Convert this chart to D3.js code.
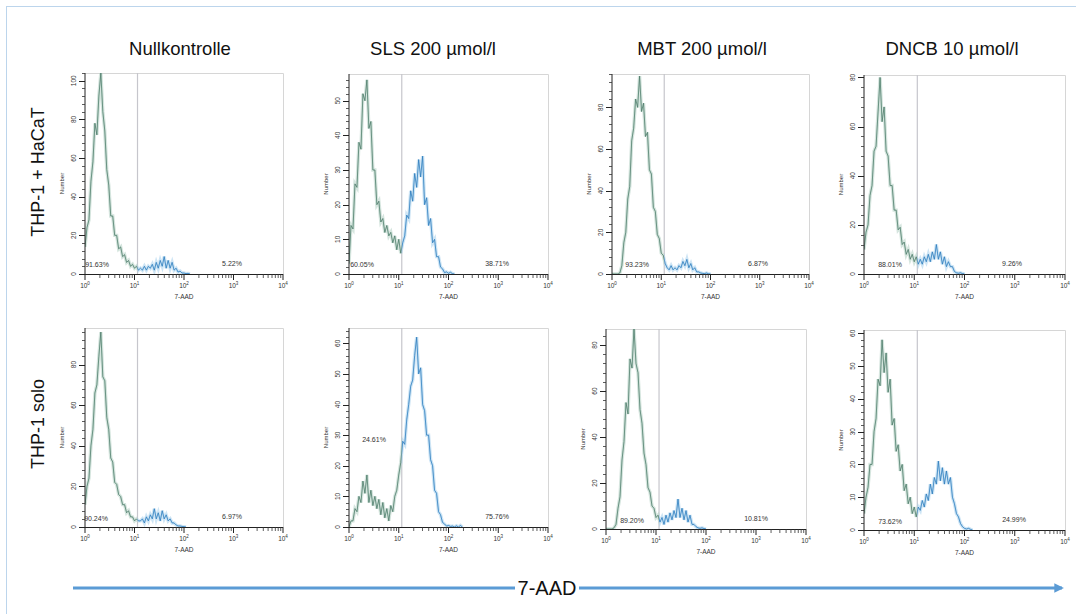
<!DOCTYPE html>
<html><head><meta charset="utf-8">
<script src="https://cdn.jsdelivr.net/npm/d3@7"></script>
<style>
body{margin:0;background:#fff}
svg{display:block}
text{font-family:"Liberation Sans",Arial,Helvetica,sans-serif}
</style>
</head><body>
<svg id="chart" width="1076" height="614"></svg>
<script>
// ---------- data ----------
const binWidth = 0.04;          // histogram bin width in decades, first bin at 10^0
const gateValue = 11.5;          // marker gate on 7-AAD axis
const panelTitles = ["Nullkontrolle", "SLS 200 µmol/l", "MBT 200 µmol/l", "DNCB 10 µmol/l"];
const rowLabels = ["THP-1 + HaCaT", "THP-1 solo"];
const xTickValues = [1, 10, 100, 1000, 10000];
const xTickExponents = ["0", "1", "2", "3", "4"];
const yMax = [104, 57.7, 96, 81, 98, 65, 87, 61];
const yStep = [20, 10, 20, 20, 20, 10, 20, 10];
const leftPct = ["91.63%", "60.05%", "93.23%", "88.01%", "90.24%", "24.61%", "89.20%", "73.62%"];
const rightPct = ["5.22%", "38.71%", "6.87%", "9.26%", "6.97%", "75.76%", "10.81%", "24.99%"];

const nullHacat = [14,24,28,48,58,78,72,92,104,84,74,54,46,30,30,20,20,13,14,9,10,6,7,4,5,3,4,2,3,2,4,2,4,3,5,2,6,3,7,4,9,3,7,3,6,2,3,1,1.5,0.5,0.5,0.2,0.3,0];
const slsHacat = [3,14,13,26,25,38,36,52,50,56,42,44,30,30,20,21,15,16,12,14,11,12,9,11,7,10,6,9,11,17,16,24,21,29,25,33,28,34,20,22,14,16,9,10,5,5,2,1.5,0.4,0.6,0.2,0.5,0.1,0];
const mbtHacat = [0,0,0,0,0.5,4,15,20,36,42,64,70,84,80,95,78,82,66,68,50,48,32,30,19,17,10,9,5,3,2,4,2,3,2,4,3,6,4,7,3,5,2,3,1,1,0.5,0.3,0.2,0.5,0.1,0];
const dncbHacat = [10,17,20,32,36,50,52,66,80,62,68,50,48,36,36,26,26,18,19,12,13,8,10,6,8,5,7,4,6,4,7,5,8,5,9,6,12,6,9,4,7,3,5,3,3,1,0.5,0.3,0.5,0.2,0];
const nullSolo = [11,20,24,40,48,66,70,84,96,74,72,54,48,34,32,22,21,16,15,11,11,7,8,5,5,3,4,3,3,4,2,5,3,6,4,9,4,7,3,8,4,6,3,4,2,2,1,0.5,0.5,0.3,0.2,0];
const slsSolo = [0,2,2,6,5,10,8,15,11,17,8,12,7,10,6,9,4,8,3,6,2,7,5,10,12,17,21,28,27,35,40,46,48,56,62,50,52,40,38,30,30,22,20,12,11,5,4,1.5,1,0.3,0.5,0.2,0.3,0,0.4,0,0.5,0];
const mbtSolo = [0,0,0,0,0.5,2,9,14,30,38,55,50,74,70,87,72,68,52,46,33,28,18,16,10,9,5,6,3,5,2,6,3,7,4,8,5,13,5,9,4,8,3,6,2,2,1,0.5,0.3,0.5,0.2,0];
const dncbSolo = [5,10,13,20,20,30,34,46,44,58,48,54,42,46,32,34,24,26,18,20,12,14,8,10,5,7,4,7,6,9,7,11,9,14,11,16,14,21,15,19,14,18,14,16,10,8,5,4,2,1,0.5,0.3,0.5,0.2,0];

const series = [nullHacat, slsHacat, mbtHacat, dncbHacat, nullSolo, slsSolo, mbtSolo, dncbSolo];

// ---------- layout ----------
const layout = [
  {x: 85,  w: 198, top: 73,  bottom: 274, lx: 12, ly: -7, rx: 147, ry: -8},
  {x: 349, w: 199, top: 74,  bottom: 274, lx: 13, ly: -7, rx: 148, ry: -8},
  {x: 612, w: 197, top: 74,  bottom: 274, lx: 25, ly: -7, rx: 146, ry: -8},
  {x: 864, w: 201, top: 75,  bottom: 274, lx: 26, ly: -7, rx: 148, ry: -8},
  {x: 85,  w: 198, top: 328, bottom: 527, lx: 11, ly: -6, rx: 147, ry: -8},
  {x: 349, w: 199, top: 328, bottom: 527, lx: 25, ly: -85, rx: 148, ry: -8},
  {x: 606, w: 200, top: 329, bottom: 529, lx: 26, ly: -6, rx: 150, ry: -8},
  {x: 864, w: 201, top: 330, bottom: 530, lx: 26, ly: -6, rx: 150, ry: -8}
];
const titleX = [180, 433, 702, 952];
const rowY = [172, 424];

const svg = d3.select("#chart");
const defs = svg.append("defs");

// outer frame
svg.append("rect").attr("x", 6.5).attr("y", 6.5).attr("width", 1200).attr("height", 800)
  .attr("fill", "none").attr("stroke", "#bcd5ec").attr("stroke-width", 1);

// titles
svg.selectAll("text.title").data(panelTitles).join("text")
  .attr("class", "title")
  .attr("x", (d, i) => titleX[i]).attr("y", 55)
  .attr("text-anchor", "middle").attr("font-size", 18.5).attr("fill", "#111")
  .text(d => d);

// row labels
svg.selectAll("text.row").data(rowLabels).join("text")
  .attr("class", "row")
  .attr("transform", (d, i) => `translate(44,${rowY[i]}) rotate(-90)`)
  .attr("text-anchor", "middle").attr("font-size", 18).attr("fill", "#111")
  .text(d => d);

series.forEach((data, p) => {
  const L = layout[p];
  const g = svg.append("g");
  const x = d3.scaleLog().domain([1, 10000]).range([L.x, L.x + L.w]);
  const y = d3.scaleLinear().domain([0, yMax[p]]).range([L.bottom, L.top]);
  const gx = x(gateValue);

  // frame top/right
  g.append("path")
    .attr("d", `M${L.x},${L.top + 0.5}H${L.x + L.w + 0.5}V${L.bottom}`)
    .attr("fill", "none").attr("stroke", "#d6d6d6").attr("stroke-width", 1);

  // gate line
  g.append("line").attr("x1", gx).attr("x2", gx).attr("y1", L.top).attr("y2", L.bottom)
    .attr("stroke", "#c6c6cc").attr("stroke-width", 1.2);

  // clip paths
  const cl = `clipL${p}`, cr = `clipR${p}`;
  defs.append("clipPath").attr("id", cl).append("rect")
    .attr("x", L.x).attr("y", L.top).attr("width", gx - L.x).attr("height", L.bottom - L.top + 1);
  defs.append("clipPath").attr("id", cr).append("rect")
    .attr("x", gx).attr("y", L.top).attr("width", L.x + L.w - gx).attr("height", L.bottom - L.top + 1);

  const line = d3.line()
    .x((d, i) => x(Math.pow(10, i * binWidth)))
    .y(d => y(d));

  const parts = [
    {clip: cl, light: "#b3cfc3", mid: "#6c9987", dark: "#355f51"},
    {clip: cr, light: "#a6cfec", mid: "#4a97d0", dark: "#1d62a8"}
  ];
  parts.forEach(pt => {
    const gg = g.append("g").attr("clip-path", `url(#${pt.clip})`);
    gg.append("path").datum(data).attr("d", line)
      .attr("fill", "none").attr("stroke", pt.light).attr("stroke-width", 3.4)
      .attr("stroke-opacity", 0.55).attr("stroke-linejoin", "miter");
    gg.append("path").datum(data).attr("d", line)
      .attr("fill", "none").attr("stroke", pt.mid).attr("stroke-width", 1)
      .attr("stroke-opacity", 0.85);
    gg.append("path").datum(data).attr("d", line)
      .attr("fill", "none").attr("stroke", pt.dark).attr("stroke-width", 0.5)
      .attr("stroke-opacity", 0.5);
  });

  // y axis
  g.append("line").attr("x1", L.x).attr("x2", L.x).attr("y1", L.top).attr("y2", L.bottom)
    .attr("stroke", "#222").attr("stroke-width", 1);
  const minorStep = yStep[p] / 5;
  const yMinor = d3.range(0, yMax[p] + 1e-6, minorStep);
  g.selectAll("line.ymin").data(yMinor).join("line")
    .attr("x1", L.x - 3).attr("x2", L.x).attr("y1", d => Math.round(y(d)) + 0.5).attr("y2", d => Math.round(y(d)) + 0.5)
    .attr("stroke", "#333").attr("stroke-width", 0.8);
  const yMajor = d3.range(0, yMax[p] + 1e-6, yStep[p]);
  g.selectAll("line.ymaj").data(yMajor).join("line")
    .attr("x1", L.x - 6).attr("x2", L.x).attr("y1", d => Math.round(y(d)) + 0.5).attr("y2", d => Math.round(y(d)) + 0.5)
    .attr("stroke", "#222").attr("stroke-width", 1);
  g.selectAll("text.ylab").data(yMajor).join("text")
    .attr("transform", d => `translate(${L.x - 9},${y(d)}) rotate(-90)`)
    .attr("text-anchor", "middle").attr("font-size", 6.5).attr("fill", "#333")
    .text(d => d);
  g.append("text")
    .attr("transform", `translate(${L.x - 21},${(L.top + L.bottom) / 2 + 10}) rotate(-90)`)
    .attr("text-anchor", "middle").attr("font-size", 6).attr("fill", "#333")
    .text("Number");

  // x axis
  g.append("line").attr("x1", L.x).attr("x2", L.x + L.w).attr("y1", L.bottom + 0.5).attr("y2", L.bottom + 0.5)
    .attr("stroke", "#222").attr("stroke-width", 1);
  const xMinor = x.ticks().filter(v => !xTickValues.includes(v));
  g.selectAll("line.xmin").data(xMinor).join("line")
    .attr("x1", d => x(d)).attr("x2", d => x(d)).attr("y1", L.bottom).attr("y2", L.bottom + 4)
    .attr("stroke", "#333").attr("stroke-width", 0.8);
  g.selectAll("line.xmaj").data(xTickValues).join("line")
    .attr("x1", d => x(d)).attr("x2", d => x(d)).attr("y1", L.bottom).attr("y2", L.bottom + 6)
    .attr("stroke", "#222").attr("stroke-width", 1);
  const xl = g.selectAll("text.xlab").data(xTickValues).join("text")
    .attr("x", d => x(d)).attr("y", L.bottom + 14)
    .attr("text-anchor", "middle").attr("font-size", 6.5).attr("fill", "#333");
  xl.append("tspan").text("10");
  xl.append("tspan").attr("dy", -3).attr("font-size", 4.5).text((d, i) => xTickExponents[i]);
  g.append("text").attr("x", L.x + L.w / 2).attr("y", L.bottom + 25)
    .attr("text-anchor", "middle").attr("font-size", 6.5).attr("fill", "#333").text("7-AAD");

  // percentages
  g.append("text").attr("x", L.x + L.lx).attr("y", L.bottom + L.ly)
    .attr("text-anchor", "middle").attr("font-size", 7).attr("fill", "#333").text(leftPct[p]);
  g.append("text").attr("x", L.x + L.rx).attr("y", L.bottom + L.ry)
    .attr("text-anchor", "middle").attr("font-size", 7).attr("fill", "#333").text(rightPct[p]);
});

// bottom arrow
defs.append("marker").attr("id", "arrow").attr("viewBox", "0 0 10 10")
  .attr("refX", 8).attr("refY", 5).attr("markerWidth", 3.2).attr("markerHeight", 3.2)
  .attr("orient", "auto")
  .append("path").attr("d", "M0,0L10,5L0,10z").attr("fill", "#5b9bd5");
svg.append("line").attr("x1", 73).attr("x2", 1062).attr("y1", 588).attr("y2", 588)
  .attr("stroke", "#5b9bd5").attr("stroke-width", 3).attr("marker-end", "url(#arrow)");
svg.append("rect").attr("x", 515).attr("y", 574).attr("width", 64).attr("height", 28).attr("fill", "#fff");
svg.append("text").attr("x", 547).attr("y", 595).attr("text-anchor", "middle")
  .attr("font-size", 20).attr("fill", "#111").text("7-AAD");
</script>
</body></html>
